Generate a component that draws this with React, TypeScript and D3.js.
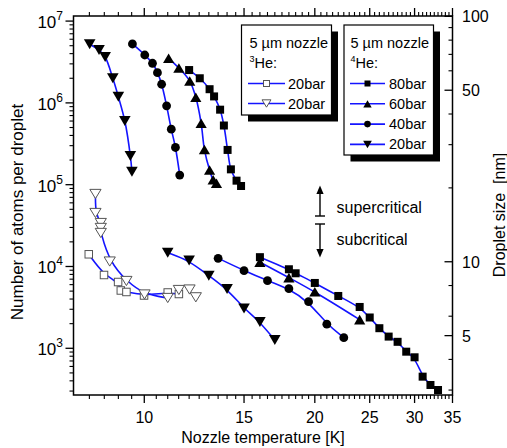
import React from "react";
import * as d3 from "d3";

// ---------- data ----------
// 4He, 80 bar (filled squares)
const he4_80_hi_T = [12.0, 12.53, 13.04, 13.28, 13.61, 13.82, 14.03, 14.22, 14.55, 14.82];
const he4_80_hi_N = [2.52e6, 2.0e6, 1.47e6, 1.2e6, 8.26e5, 5.29e5, 2.66e5, 1.54e5, 1.12e5, 9.64e4];
const he4_80_lo_T = [16, 18, 18.5, 20, 22, 24, 25, 26, 27, 28, 29, 30, 31, 32, 33];
const he4_80_lo_N = [1.3e4, 9.25e3, 8.26e3, 6.29e3, 4.36e3, 3.2e3, 2.38e3, 1.76e3, 1.39e3, 1.2e3, 909, 776, 450, 356, 309];
// 4He, 60 bar (filled up-triangles)
const he4_60_hi_T = [11.04, 11.51, 12.03, 12.33, 12.6, 12.77, 13.04, 13.23, 13.41];
const he4_60_hi_N = [3.51e6, 2.67e6, 1.85e6, 1.17e6, 5.63e5, 2.69e5, 1.51e5, 1.15e5, 1.04e5];
const he4_60_lo_T = [16, 18, 20, 24];
const he4_60_lo_N = [1.13e4, 7.3e3, 4.92e3, 2.24e3];
// 4He, 40 bar (filled circles)
const he4_40_hi_T = [9.53, 10.02, 10.34, 10.55, 10.73, 10.95, 11.16, 11.35, 11.55];
const he4_40_hi_N = [5.25e6, 3.85e6, 3.05e6, 2.34e6, 1.69e6, 9.2e5, 4.77e5, 2.85e5, 1.31e5];
const he4_40_lo_T = [13.5, 15, 16.5, 18, 19.5, 21, 22.5];
const he4_40_lo_N = [1.26e4, 8.9e3, 6.7e3, 5.35e3, 3.71e3, 1.97e3, 1.35e3];
// 4He, 20 bar (filled down-triangles)
const he4_20_hi_T = [8.01, 8.32, 8.53, 8.8, 9.0, 9.24, 9.45, 9.51];
const he4_20_hi_N = [5.22e6, 4.43e6, 3.64e6, 2.0e6, 1.19e6, 6.0e5, 2.24e5, 1.44e5];
const he4_20_lo_T = [11, 12, 13, 14, 15, 16, 17];
const he4_20_lo_N = [1.47e4, 1.18e4, 7.7e3, 5.3e3, 3.07e3, 2.1e3, 1.26e3];
// 3He, 20 bar (open squares)
const he3_sq_T = [7.98, 8.49, 8.99, 9.09, 9.3, 9.99, 11.0, 11.51];
const he3_sq_N = [1.41e4, 7.87e3, 6.46e3, 5.09e3, 4.88e3, 4.42e3, 4.81e3, 4.61e3];
// 3He, 20 bar (open down-triangles)
const he3_tri_T = [8.2, 8.2, 8.38, 8.38, 8.38, 8.69, 9.3, 10.01, 11.0, 11.51, 12.02, 12.33];
const he3_tri_N = [7.7e4, 4.51e4, 3.4e4, 2.96e4, 2.57e4, 1.15e4, 6.65e3, 4.55e3, 4.12e3, 5.16e3, 5.23e3, 4.2e3];

const xMajor = [10, 15, 20, 25, 30, 35];
const yMajorExp = [3, 4, 5, 6, 7];
const sizeMajor = [100, 50, 10, 5];
const sizeMinor = [90, 80, 70, 60, 40, 30, 20, 8, 6, 4, 3];

const legend3 = ["20bar", "20bar"];
const legend4 = ["80bar", "60bar", "40bar", "20bar"];

// ---------- layout ----------
const W = 507, H = 448;
const L = 73.5, R = 452.5, T = 16, B = 395;
const FONT = "'Liberation Sans', Arial, Helvetica, sans-serif";
const BLUE = "#1414ff";

const x = d3.scaleLog().domain([7.5, 35]).range([L, R]);
const y = d3.scaleLog().domain([268.5, 1.154e7]).range([B, T]);
const toSize = (n: number) => 0.444 * Math.cbrt(n);
const ys = d3.scaleLog().domain([toSize(268.5), toSize(1.154e7)]).range([B, T]);

type MType = "square" | "circle" | "up" | "down" | "osq" | "odown";

function Marker({ t, cx, cy, s = 1 }: { t: MType; cx: number; cy: number; s?: number }) {
  if (t === "square") {
    const a = 8 * s;
    return <rect x={cx - a / 2} y={cy - a / 2} width={a} height={a} fill="#000" />;
  }
  if (t === "circle") return <circle cx={cx} cy={cy} r={4.4 * s} fill="#000" />;
  if (t === "up") {
    const w = 5.6 * s, h = 4.8 * s;
    return <path d={`M${cx},${cy - h}L${cx + w},${cy + h}L${cx - w},${cy + h}Z`} fill="#000" />;
  }
  if (t === "down") {
    const w = 5.8 * s, h = 5 * s;
    return <path d={`M${cx - w},${cy - h}L${cx + w},${cy - h}L${cx},${cy + h}Z`} fill="#000" />;
  }
  if (t === "osq") {
    const a = 7.5 * s;
    return <rect x={cx - a / 2} y={cy - a / 2} width={a} height={a} fill="#fff" stroke="#555" strokeWidth={1} />;
  }
  const w = 5.6 * s, h = 4.6 * s;
  return <path d={`M${cx - w},${cy - h}L${cx + w},${cy - h}L${cx},${cy + h}Z`} fill="#fff" stroke="#555" strokeWidth={1} />;
}

function pts(Ts: number[], Ns: number[]) {
  return Ts.map((t, i) => [x(t), y(Ns[i])] as [number, number]);
}

const lineSmooth = d3.line().curve(d3.curveCatmullRom.alpha(0.5));
const lineBasis = d3.line().curve(d3.curveBasis);

export default function App() {
  const series: { T: number[]; N: number[]; m: MType; curve: "c" | "b"; lineN?: number }[] = [
    { T: he3_sq_T, N: he3_sq_N, m: "osq", curve: "b" },
    { T: he3_tri_T, N: he3_tri_N, m: "odown", curve: "b", lineN: 9 },
    { T: he4_80_hi_T, N: he4_80_hi_N, m: "square", curve: "c" },
    { T: he4_80_lo_T, N: he4_80_lo_N, m: "square", curve: "b" },
    { T: he4_60_hi_T, N: he4_60_hi_N, m: "up", curve: "c" },
    { T: he4_60_lo_T, N: he4_60_lo_N, m: "up", curve: "b" },
    { T: he4_40_hi_T, N: he4_40_hi_N, m: "circle", curve: "c" },
    { T: he4_40_lo_T, N: he4_40_lo_N, m: "circle", curve: "b" },
    { T: he4_20_hi_T, N: he4_20_hi_N, m: "down", curve: "c" },
    { T: he4_20_lo_T, N: he4_20_lo_N, m: "down", curve: "b" },
  ];

  const xMinor: number[] = [];
  for (let v = 8; v < 35; v += 0.5) if (v % 5 !== 0) xMinor.push(v);

  const yMinor: number[] = [];
  for (let e = 2; e <= 7; e++) for (let k = 2; k <= 9; k++) {
    const v = k * Math.pow(10, e);
    if (v >= 268.5 && v <= 1.154e7) yMinor.push(v);
  }

  const legendBox = (bx: number, by: number, bw: number, bh: number) => (
    <g>
      <rect x={bx + 6.5} y={by + 6.5} width={bw} height={bh} fill="#000" />
      <rect x={bx} y={by} width={bw} height={bh} fill="#fff" stroke="#000" strokeWidth={1.2} />
    </g>
  );

  return (
    <svg width={W} height={H} style={{ position: "absolute", left: 0, top: 0, background: "#fff" }} fontFamily={FONT}>
      <rect x={0} y={0} width={W} height={H} fill="#fff" />
      {/* lines */}
      {series.map((s, i) => {
        const p = pts(s.T, s.N).slice(0, s.lineN ?? s.T.length);
        const gen = s.curve === "c" ? lineSmooth : lineBasis;
        return <path key={"l" + i} d={gen(p) || ""} fill="none" stroke={BLUE} strokeWidth={1.6} />;
      })}
      {/* markers */}
      {series.map((s, i) =>
        pts(s.T, s.N).map((p, j) => <Marker key={`m${i}-${j}`} t={s.m} cx={p[0]} cy={p[1]} />)
      )}

      {/* frame */}
      <rect x={L} y={T} width={R - L} height={B - T} fill="none" stroke="#000" strokeWidth={1.5} />

      {/* bottom & top ticks */}
      {xMinor.map((v) => (
        <g key={"xm" + v}>
          <line x1={x(v)} x2={x(v)} y1={B} y2={B + 4} stroke="#000" strokeWidth={1.1} />
          <line x1={x(v)} x2={x(v)} y1={T} y2={T - 4} stroke="#000" strokeWidth={1.1} />
        </g>
      ))}
      {xMajor.map((v) => (
        <g key={"xM" + v}>
          <line x1={x(v)} x2={x(v)} y1={B} y2={B + 8} stroke="#000" strokeWidth={1.3} />
          <line x1={x(v)} x2={x(v)} y1={T} y2={T - 8} stroke="#000" strokeWidth={1.3} />
          <text x={x(v)} y={423} textAnchor="middle" fontSize={16}>{v}</text>
        </g>
      ))}

      {/* left ticks */}
      {yMinor.map((v) => (
        <line key={"ym" + v} x1={L} x2={L - 4} y1={y(v)} y2={y(v)} stroke="#000" strokeWidth={1.1} />
      ))}
      {yMajorExp.map((e) => {
        const yy = y(Math.pow(10, e));
        return (
          <g key={"yM" + e}>
            <line x1={L} x2={L - 8} y1={yy} y2={yy} stroke="#000" strokeWidth={1.3} />
            <text x={63} y={yy + 7} textAnchor="end" fontSize={17}>
              10<tspan fontSize={12} dy={-8}>{e}</tspan>
            </text>
          </g>
        );
      })}

      {/* right ticks */}
      {sizeMinor.map((v) => (
        <line key={"sm" + v} x1={R} x2={R - 4} y1={ys(v)} y2={ys(v)} stroke="#000" strokeWidth={1.1} />
      ))}
      {sizeMajor.map((v) => (
        <g key={"sM" + v}>
          <line x1={R} x2={R - 8} y1={ys(v)} y2={ys(v)} stroke="#000" strokeWidth={1.3} />
          <text x={462} y={ys(v) + 6} fontSize={16}>{v}</text>
        </g>
      ))}

      {/* axis titles */}
      <text x={263} y={443} textAnchor="middle" fontSize={16}>Nozzle temperature [K]</text>
      <text transform="translate(23,212) rotate(-90)" textAnchor="middle" fontSize={17}>Number of atoms per droplet</text>
      <text transform="translate(505,215) rotate(-90)" textAnchor="middle" fontSize={16}>Droplet size{"\u00a0\u00a0"}[nm]</text>

      {/* legend 3He */}
      {legendBox(241.5, 25, 90, 90)}
      <text x={249.5} y={48} fontSize={14.5}>5 µm nozzle</text>
      <text x={249.5} y={68} fontSize={14.5}>
        <tspan fontSize={9} dy={-6}>3</tspan><tspan dy={6}>He:</tspan>
      </text>
      {legend3.map((lab, i) => {
        const yy = 83.5 + i * 20;
        return (
          <g key={"lg3" + i}>
            <line x1={248} x2={285} y1={yy} y2={yy} stroke={BLUE} strokeWidth={1.6} />
            <Marker t={i === 0 ? "osq" : "odown"} cx={266.5} cy={yy} s={0.8} />
            <text x={288} y={yy + 5} fontSize={14.5}>{lab}</text>
          </g>
        );
      })}

      {/* legend 4He */}
      {legendBox(344, 25, 89.5, 130)}
      <text x={350.5} y={48} fontSize={14.5}>5 µm nozzle</text>
      <text x={350.5} y={68} fontSize={14.5}>
        <tspan fontSize={9} dy={-6}>4</tspan><tspan dy={6}>He:</tspan>
      </text>
      {legend4.map((lab, i) => {
        const yy = 83.5 + i * 20.3;
        const mt: MType[] = ["square", "up", "circle", "down"];
        return (
          <g key={"lg4" + i}>
            <line x1={350} x2={385} y1={yy} y2={yy} stroke={BLUE} strokeWidth={1.6} />
            <Marker t={mt[i]} cx={367.5} cy={yy} s={0.75} />
            <text x={389} y={yy + 5} fontSize={14.5}>{lab}</text>
          </g>
        );
      })}

      {/* annotation arrows */}
      <line x1={320} x2={320} y1={216} y2={192} stroke="#000" strokeWidth={1.4} />
      <path d="M320,185.5L323.6,194L316.4,194Z" fill="#000" />
      <line x1={315} x2={325} y1={216} y2={216} stroke="#000" strokeWidth={1.4} />
      <text x={336.5} y={213} fontSize={16}>supercritical</text>
      <line x1={315} x2={325} y1={224} y2={224} stroke="#000" strokeWidth={1.4} />
      <line x1={320} x2={320} y1={224} y2={250} stroke="#000" strokeWidth={1.4} />
      <path d="M320,257.5L323.6,249L316.4,249Z" fill="#000" />
      <text x={336.5} y={245} fontSize={16}>subcritical</text>
    </svg>
  );
}
